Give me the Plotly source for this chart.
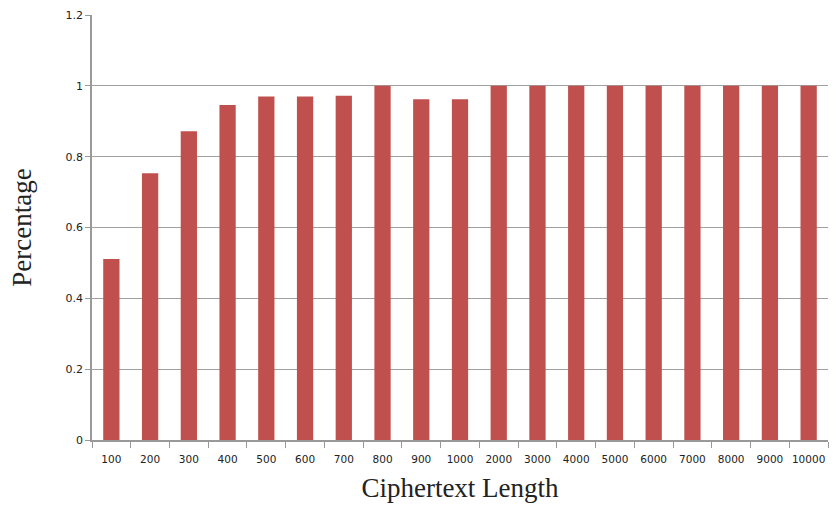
import plotly.graph_objects as go

# Ciphertext lengths (categories) and fraction of successful decryptions
lengths = ["100", "200", "300", "400", "500", "600", "700", "800", "900", "1000",
           "2000", "3000", "4000", "5000", "6000", "7000", "8000", "9000", "10000"]
percentage = [0.511, 0.753, 0.872, 0.946, 0.970, 0.970, 0.972, 1.0, 0.962, 0.962,
              1.0, 1.0, 1.0, 1.0, 1.0, 1.0, 1.0, 1.0, 1.0]

y_ticks = [0, 0.2, 0.4, 0.6, 0.8, 1, 1.2]
y_tick_text = ["0", "0.2", "0.4", "0.6", "0.8", "1", "1.2"]

fig = go.Figure(
    go.Bar(
        x=lengths,
        y=percentage,
        marker=dict(color="#c0504d", line=dict(width=0)),
    )
)

fig.update_layout(
    width=838,
    height=508,
    margin=dict(l=92, r=10, t=9, b=68),
    paper_bgcolor="white",
    plot_bgcolor="white",
    bargap=0.58,
    showlegend=False,
    font=dict(family="DejaVu Sans", color="#222222"),
)

fig.update_xaxes(
    type="category",
    tickson="boundaries",
    tickangle=0,
    ticks="outside",
    ticklen=6,
    tickcolor="#999999",
    ticklabelstandoff=9,
    showline=True,
    linecolor="#999999",
    linewidth=1.5,
    tickfont=dict(family="DejaVu Sans", size=10.5, color="#222222"),
    title=dict(text="Ciphertext Length",
               font=dict(family="Liberation Serif", size=27, color="#222222"),
               standoff=14),
    showgrid=False,
)

fig.update_yaxes(
    range=[0, 1.2],
    tickvals=y_ticks,
    ticktext=y_tick_text,
    ticks="outside",
    ticklen=5,
    tickcolor="#999999",
    showline=True,
    linecolor="#999999",
    linewidth=1.5,
    showgrid=True,
    gridcolor="#a0a0a0",
    gridwidth=1,
    zeroline=False,
    tickfont=dict(family="DejaVu Sans", size=11, color="#222222"),
    title=dict(text="Percentage",
               font=dict(family="Liberation Serif", size=27, color="#222222"),
               standoff=26),
)

fig.write_html("out.html")
